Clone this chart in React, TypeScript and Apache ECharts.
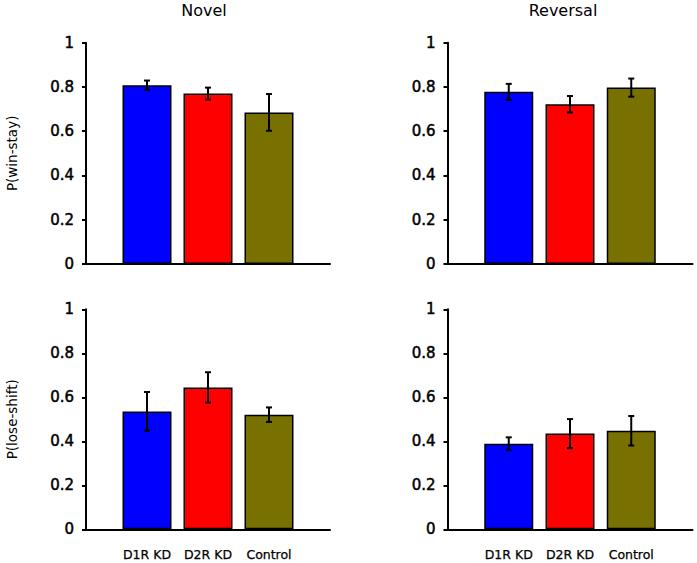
import React, { useEffect, useRef } from "react";
import * as echarts from "echarts";

const categories = ["D1R KD", "D2R KD", "Control"];
const barColors = ["#0000FF", "#FF0000", "#787000"];

const novelWinStay = [0.808, 0.77, 0.685];
const novelWinStayErr = [0.021, 0.027, 0.083];
const reversalWinStay = [0.778, 0.722, 0.797];
const reversalWinStayErr = [0.036, 0.037, 0.041];
const novelLoseShift = [0.536, 0.645, 0.521];
const novelLoseShiftErr = [0.088, 0.069, 0.033];
const reversalLoseShift = [0.389, 0.435, 0.448];
const reversalLoseShiftErr = [0.029, 0.066, 0.067];

const yTicks = { min: 0, max: 1, interval: 0.2 };
const panelTitles = ["Novel", "Reversal"];
const yNames = ["P(win-stay)", "P(lose-shift)"];

const FONT = "'DejaVu Sans', sans-serif";

export default function App() {
  const ref = useRef<HTMLDivElement>(null);
  useEffect(() => {
    if (!ref.current) return;
    const chart = echarts.init(ref.current, null, { renderer: "svg" });
    const axisCats = ["", ...categories, ""];
    const panels = [
      { vals: novelWinStay, errs: novelWinStayErr },
      { vals: reversalWinStay, errs: reversalWinStayErr },
      { vals: novelLoseShift, errs: novelLoseShiftErr },
      { vals: reversalLoseShift, errs: reversalLoseShiftErr },
    ];
    const grids = [
      { left: 86, top: 42.7, width: 244, height: 221.3 },
      { left: 447.5, top: 42.7, width: 245, height: 221.3 },
      { left: 86, top: 309.3, width: 244, height: 220 },
      { left: 447.5, top: 309.3, width: 245, height: 220 },
    ];
    const xAxis = grids.map((_, i) => ({
      type: "category",
      gridIndex: i,
      data: axisCats,
      boundaryGap: false,
      axisLine: { show: true, lineStyle: { color: "#000", width: 2 } },
      axisTick: { show: false },
      axisLabel: {
        show: i >= 2,
        interval: 0,
        color: "#000",
        fontSize: 12.5,
        fontFamily: FONT,
        margin: 19,
        textBorderColor: "#000",
        textBorderWidth: 0.25,
      },
      splitLine: { show: false },
    }));
    const yAxis = grids.map((_, i) => ({
      type: "value",
      gridIndex: i,
      min: yTicks.min,
      max: yTicks.max,
      interval: yTicks.interval,
      name: i % 2 === 0 ? yNames[Math.floor(i / 2)] : "",
      nameLocation: "middle",
      nameRotate: 90,
      nameGap: 67,
      nameTextStyle: { color: "#000", fontSize: 13.5, fontFamily: FONT },
      axisLine: { show: true, lineStyle: { color: "#000", width: 2 } },
      axisTick: { show: true, length: 4, lineStyle: { color: "#000", width: 2 } },
      axisLabel: {
        color: "#000",
        fontSize: 15,
        fontFamily: FONT,
        margin: 12,
        textBorderColor: "#000",
        textBorderWidth: 0.5,
      },
      splitLine: { show: false },
    }));
    const series: any[] = [];
    panels.forEach((p, i) => {
      series.push({
        type: "bar",
        xAxisIndex: i,
        yAxisIndex: i,
        barWidth: 49,
        data: [
          "-",
          ...p.vals.map((v, k) => ({
            value: v,
            itemStyle: { color: barColors[k], borderColor: "#000", borderWidth: 1.5 },
          })),
          "-",
        ],
        z: 2,
      });
      series.push({
        type: "custom",
        xAxisIndex: i,
        yAxisIndex: i,
        z: 5,
        data: p.vals.map((v, k) => [k + 1, v, p.errs[k]]),
        renderItem: (params: any, api: any) => {
          const x = api.value(0);
          const v = api.value(1);
          const e = api.value(2);
          const hi = api.coord([x, v + e]);
          const lo = api.coord([x, v - e]);
          const cap = 3;
          const style = { stroke: "#000", lineWidth: 2 };
          return {
            type: "group",
            children: [
              { type: "line", shape: { x1: hi[0], y1: hi[1], x2: lo[0], y2: lo[1] }, style },
              { type: "line", shape: { x1: hi[0] - cap, y1: hi[1], x2: hi[0] + cap, y2: hi[1] }, style },
              { type: "line", shape: { x1: lo[0] - cap, y1: lo[1], x2: lo[0] + cap, y2: lo[1] }, style },
            ],
          };
        },
      });
    });
    chart.setOption({
      animation: false,
      backgroundColor: "#fff",
      grid: grids,
      xAxis,
      yAxis,
      series,
      graphic: panelTitles.map((t, k) => ({
        type: "text",
        x: k === 0 ? 204 : 563,
        y: 10,
        style: {
          text: t,
          fill: "#000",
          font: `16px ${FONT}`,
          textAlign: "center",
          textVerticalAlign: "middle",
        },
      })),
    });
    return () => chart.dispose();
  }, []);
  return (
    <div
      ref={ref}
      style={{ position: "fixed", left: 0, top: 0, width: 697, height: 563, background: "#fff" }}
    />
  );
}
